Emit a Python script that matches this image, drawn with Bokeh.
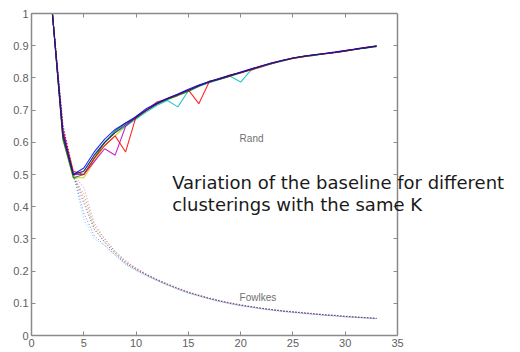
from bokeh.plotting import figure
from bokeh.models import LinearAxis, FixedTicker, Label
from bokeh.embed import file_html
from bokeh.resources import INLINE

# ---- data ----
K = list(range(1, 34))

rand_blue = [1.0, 1.0, 0.63, 0.50, 0.52, 0.57, 0.61, 0.64, 0.66, 0.68, 0.705, 0.722, 0.737, 0.750, 0.765, 0.778, 0.789, 0.799, 0.808, 0.818, 0.828, 0.838, 0.847, 0.855, 0.862, 0.867, 0.872, 0.876, 0.880, 0.885, 0.890, 0.894, 0.899]
rand_green = [1.0, 1.0, 0.61, 0.49, 0.50, 0.55, 0.60, 0.635, 0.66, 0.675, 0.700, 0.720, 0.733, 0.745, 0.758, 0.774, 0.790, 0.796, 0.805, 0.815, 0.826, 0.836, 0.845, 0.854, 0.861, 0.866, 0.870, 0.875, 0.879, 0.884, 0.889, 0.893, 0.898]
rand_red = [1.0, 1.0, 0.64, 0.51, 0.50, 0.55, 0.59, 0.62, 0.57, 0.68, 0.700, 0.725, 0.735, 0.748, 0.763, 0.720, 0.788, 0.798, 0.810, 0.816, 0.825, 0.835, 0.846, 0.853, 0.860, 0.866, 0.871, 0.874, 0.878, 0.883, 0.888, 0.895, 0.900]
rand_cyan = [1.0, 1.0, 0.62, 0.50, 0.51, 0.56, 0.60, 0.63, 0.65, 0.672, 0.695, 0.715, 0.730, 0.710, 0.760, 0.773, 0.785, 0.795, 0.805, 0.787, 0.824, 0.834, 0.844, 0.852, 0.860, 0.866, 0.870, 0.875, 0.879, 0.884, 0.889, 0.893, 0.897]
rand_magenta = [1.0, 1.0, 0.62, 0.50, 0.50, 0.54, 0.58, 0.56, 0.65, 0.678, 0.700, 0.720, 0.736, 0.749, 0.762, 0.776, 0.787, 0.797, 0.807, 0.817, 0.827, 0.836, 0.845, 0.854, 0.862, 0.867, 0.872, 0.876, 0.880, 0.885, 0.890, 0.894, 0.899]
rand_yellow = [1.0, 1.0, 0.61, 0.49, 0.49, 0.54, 0.59, 0.62, 0.65, 0.675, 0.698, 0.718, 0.734, 0.747, 0.761, 0.774, 0.786, 0.796, 0.806, 0.816, 0.826, 0.836, 0.845, 0.853, 0.861, 0.866, 0.871, 0.875, 0.879, 0.884, 0.889, 0.894, 0.898]
rand_black = [1.0, 1.0, 0.62, 0.50, 0.51, 0.56, 0.60, 0.63, 0.655, 0.678, 0.700, 0.720, 0.735, 0.748, 0.762, 0.776, 0.787, 0.797, 0.807, 0.817, 0.827, 0.837, 0.846, 0.854, 0.862, 0.867, 0.871, 0.875, 0.879, 0.884, 0.889, 0.894, 0.899]

fowl_blue = [1.0, 1.0, 0.66, 0.50, 0.38, 0.31, 0.28, 0.250, 0.222, 0.203, 0.186, 0.171, 0.157, 0.144, 0.132, 0.123, 0.114, 0.106, 0.099, 0.093, 0.088, 0.083, 0.079, 0.075, 0.072, 0.069, 0.066, 0.063, 0.061, 0.058, 0.056, 0.054, 0.052]
fowl_green = [1.0, 1.0, 0.64, 0.49, 0.44, 0.34, 0.30, 0.260, 0.230, 0.208, 0.190, 0.174, 0.160, 0.147, 0.135, 0.125, 0.116, 0.108, 0.101, 0.095, 0.090, 0.085, 0.081, 0.077, 0.074, 0.071, 0.068, 0.065, 0.063, 0.060, 0.058, 0.056, 0.054]
fowl_red = [1.0, 1.0, 0.65, 0.51, 0.42, 0.33, 0.29, 0.255, 0.226, 0.206, 0.188, 0.173, 0.158, 0.146, 0.134, 0.124, 0.115, 0.107, 0.100, 0.094, 0.089, 0.084, 0.080, 0.076, 0.073, 0.070, 0.067, 0.064, 0.062, 0.059, 0.057, 0.055, 0.053]
fowl_cyan = [1.0, 1.0, 0.65, 0.50, 0.36, 0.30, 0.28, 0.248, 0.220, 0.201, 0.185, 0.170, 0.156, 0.143, 0.131, 0.122, 0.113, 0.105, 0.098, 0.092, 0.087, 0.082, 0.078, 0.074, 0.071, 0.068, 0.065, 0.063, 0.060, 0.058, 0.056, 0.054, 0.052]
fowl_magenta = [1.0, 1.0, 0.64, 0.50, 0.46, 0.35, 0.30, 0.262, 0.232, 0.210, 0.191, 0.175, 0.161, 0.148, 0.136, 0.126, 0.117, 0.109, 0.102, 0.096, 0.090, 0.085, 0.081, 0.077, 0.074, 0.071, 0.068, 0.065, 0.063, 0.060, 0.058, 0.056, 0.054]
fowl_yellow = [1.0, 1.0, 0.65, 0.49, 0.43, 0.34, 0.29, 0.258, 0.228, 0.207, 0.189, 0.173, 0.159, 0.146, 0.134, 0.124, 0.115, 0.107, 0.100, 0.094, 0.089, 0.084, 0.080, 0.076, 0.073, 0.070, 0.067, 0.064, 0.062, 0.059, 0.057, 0.055, 0.053]
fowl_black = [1.0, 1.0, 0.65, 0.50, 0.41, 0.33, 0.29, 0.255, 0.225, 0.205, 0.188, 0.172, 0.158, 0.145, 0.133, 0.124, 0.115, 0.107, 0.100, 0.094, 0.089, 0.084, 0.080, 0.076, 0.073, 0.070, 0.067, 0.064, 0.062, 0.059, 0.057, 0.055, 0.053]

x_ticks = [0, 5, 10, 15, 20, 25, 30, 35]
y_ticks = [0, 0.1, 0.2, 0.3, 0.4, 0.5, 0.6, 0.7, 0.8, 0.9, 1.0]
y_tick_labels = ["0", "0.1", "0.2", "0.3", "0.4", "0.5", "0.6", "0.7", "0.8", "0.9", "1"]
x_lim = (0, 35)

rand_series = [rand_yellow, rand_cyan, rand_green, rand_magenta, rand_red, rand_blue, rand_black]
fowl_series = [fowl_yellow, fowl_cyan, fowl_green, fowl_magenta, fowl_red, fowl_blue, fowl_black]
colors = ["#C8C800", "#00BFBF", "#008000", "#BF00BF", "#FF0000", "#0000FF", "#202060"]

# ---- layout ----
W, H = 520, 352
left, right_b, top_b, bottom_b = 31, 2, 13, 17
axes_px = 366                      # pixel width of the 0..35 axes box
frame_w = W - left - right_b
x_end = x_lim[1] * frame_w / axes_px   # frame extends past the box so the note is not clipped

p = figure(width=W, height=H, x_range=(x_lim[0], x_end), y_range=(0, 1),
           output_backend="svg", toolbar_location=None,
           min_border_left=left, min_border_right=right_b, min_border_top=top_b,
           min_border_bottom=bottom_b,
           background_fill_color="white", border_fill_color="white")
p.grid.visible = False
p.outline_line_color = None

axis_color = "#8a8a8a"
lab_color = "#606060"

def style(ax, ticks, standoff):
    ax.ticker = FixedTicker(ticks=ticks)
    ax.axis_line_color = axis_color
    ax.axis_line_width = 1.5
    ax.major_tick_line_color = axis_color
    ax.major_tick_in = 4
    ax.major_tick_out = 0
    ax.minor_tick_line_color = None
    ax.major_label_text_font = "Liberation Sans"
    ax.major_label_text_font_size = "11px"
    ax.major_label_text_color = lab_color
    ax.major_label_standoff = standoff

def style_box(ax, ticks):
    ax.ticker = FixedTicker(ticks=[], minor_ticks=ticks)
    ax.axis_line_color = axis_color
    ax.axis_line_width = 1.5
    ax.major_tick_line_color = None
    ax.minor_tick_line_color = axis_color
    ax.minor_tick_in = 4
    ax.minor_tick_out = 0
    ax.major_label_standoff = 0

style(p.xaxis[0], x_ticks, 3)
p.xaxis[0].bounds = x_lim
style(p.yaxis[0], y_ticks, 3)
p.yaxis[0].major_label_overrides = {t: s for t, s in zip(y_ticks, y_tick_labels)}

top = LinearAxis(bounds=x_lim)
style_box(top, x_ticks)
p.add_layout(top, "above")
right = LinearAxis(fixed_location=x_lim[1])
style_box(right, y_ticks)
p.add_layout(right, "right")

for ys, c in zip(fowl_series, colors):
    p.line(K, ys, line_color=c, line_width=1, line_dash="1 2", line_alpha=0.5)
for ys, c in zip(rand_series, colors):
    p.line(K, ys, line_color=c, line_width=1.1, line_alpha=0.85)

p.add_layout(Label(x=19.9, y=0.613, text="Rand", text_font="Liberation Sans",
                   text_font_size="10px", text_color="#707070", text_baseline="middle"))
p.add_layout(Label(x=19.9, y=0.118, text="Fowlkes", text_font="Liberation Sans",
                   text_font_size="10px", text_color="#707070", text_baseline="middle"))

p.add_layout(Label(x=13.45, y=0.474, text="Variation of the baseline for different",
                   text_font="DejaVu Sans", text_font_size="18px", text_color="#1a1a1a",
                   text_baseline="alphabetic"))
p.add_layout(Label(x=13.45, y=0.406, text="clusterings with the same K",
                   text_font="DejaVu Sans", text_font_size="18px", text_color="#1a1a1a",
                   text_baseline="alphabetic"))

open("out.html", "w").write(file_html(p, INLINE))
